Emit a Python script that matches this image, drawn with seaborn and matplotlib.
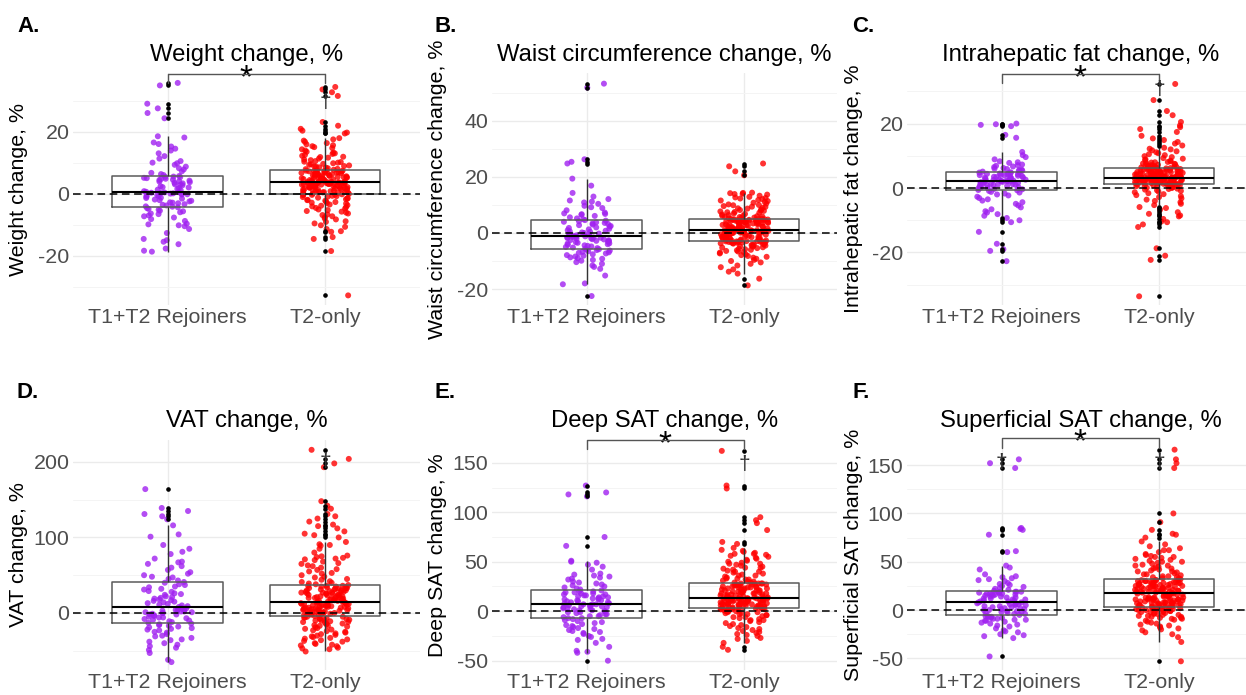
import numpy as np
import pandas as pd
import matplotlib.pyplot as plt
import seaborn as sns

groups = ["T1+T2 Rejoiners", "T2-only"]
colors = ["#A020F0", "#FF0000"]

# ---- values (percent change) ----
weight_rejoin = [
    -18.6, -18.3, -17.6, -16.2, -15.4, -14.9, -14.5, -12.6, -11.3, -10.4, -10.1, -9.8, -9.6, -8.7,
    -8.1, -7.6, -7.2, -6.9, -6.5, -6.3, -5.9, -5.6, -5.4, -5.1, -4.8, -4.6, -4.3, -4.1,
    -4.0, -3.7, -3.5, -3.3, -3.0, -2.8, -2.7, -2.4, -2.2, -2.0, -1.8, -1.5, -1.3, -1.2, -0.9,
    -0.7, -0.6, -0.4, -0.2, -0.1, 0.0, 0.1, 0.2, 0.3, 0.4, 0.5, 0.6,
    0.7, 0.9, 1.2, 1.4, 1.6, 1.9, 2.1, 2.2, 2.5, 2.8, 3.0, 3.1, 3.4, 3.6, 3.8, 4.0, 4.1, 4.3,
    4.5, 4.6, 4.8, 4.9, 5.1, 5.2, 5.4, 5.5, 5.6,
    5.8, 6.1, 6.4, 6.8, 7.3, 7.9, 8.3, 8.8, 9.4, 9.9, 10.1, 10.6, 11.4, 12.2, 13.1, 14.0, 14.6,
    15.3, 16.1, 16.6, 18.2, 18.6, 24.4, 26.1, 27.6, 29.1, 35.0, 35.8]
weight_t2 = [
    -32.7, -18.4, -14.5, -13.9, -12.2, -12.0, -11.3, -10.6, -10.1, -9.5, -9.0, -8.8, -8.2, -7.9,
    -7.5, -7.2, -6.8, -6.6, -6.3, -6.0, -5.7, -5.5, -5.2, -5.0, -4.7, -4.5, -4.3, -4.0, -3.8,
    -3.6, -3.4, -3.1, -2.9, -2.8, -2.6, -2.4, -2.2, -2.0, -1.9, -1.7, -1.5, -1.4, -1.2, -1.0,
    -0.9, -0.7, -0.6, -0.4, -0.3, -0.2, -0.1, -0.1, 0.0,
    0.1, 0.2, 0.3, 0.4, 0.5, 0.6, 0.7, 0.8, 0.8, 0.9, 1.0, 1.1, 1.2, 1.3, 1.3, 1.4, 1.5, 1.6,
    1.7, 1.8, 1.8, 1.9, 2.0, 2.1, 2.2, 2.2, 2.3, 2.4, 2.5, 2.5, 2.6, 2.7, 2.8, 2.8, 2.9, 3.0,
    3.0, 3.1, 3.2, 3.2, 3.3, 3.3, 3.4, 3.4, 3.5, 3.5, 3.6, 3.6, 3.6, 3.7, 3.7, 3.7,
    3.8, 3.8, 3.9, 4.0, 4.0, 4.1, 4.2, 4.3, 4.3, 4.4, 4.5, 4.6, 4.6, 4.7, 4.8, 4.9, 5.0, 5.0,
    5.1, 5.2, 5.3, 5.4, 5.4, 5.5, 5.6, 5.7, 5.8, 5.9, 5.9, 6.0, 6.1, 6.2, 6.3, 6.3, 6.4, 6.5,
    6.6, 6.7, 6.7, 6.8, 6.9, 7.0, 7.0, 7.1, 7.2, 7.2, 7.3, 7.4, 7.4, 7.5, 7.5, 7.6,
    7.7, 7.8, 8.0, 8.1, 8.3, 8.5, 8.6, 8.8, 9.0, 9.2, 9.4, 9.6, 9.9, 10.1, 10.3, 10.6, 10.9,
    11.1, 11.4, 11.7, 12.0, 12.3, 12.6, 12.9, 13.3, 13.6, 14.0, 14.4, 14.8, 15.1, 15.4, 15.7,
    16.0, 16.4, 16.8, 17.2, 17.6, 18.0, 9.7, 11.9, 13.1, 10.4, 8.9,
    19.5, 19.8, 20.4, 21.0, 22.0, 23.2, 31.6, 32.8, 33.7, 34.5]

waist_rejoin = [
    -22.5, -18.3, -18.0, -15.2, -12.8, -12.1, -11.6, -11.0, -10.4, -9.9, -9.6, -9.2, -9.0, -8.7,
    -8.4, -8.1, -7.9, -7.6, -7.3, -7.1, -6.9, -6.7, -6.5, -6.3, -6.1, -5.9, -5.8, -5.6,
    -5.4, -5.2, -5.0, -4.8, -4.6, -4.4, -4.2, -4.0, -3.8, -3.7, -3.5, -3.3, -3.1, -2.9, -2.8,
    -2.6, -2.5, -2.3, -2.2, -2.0, -1.9, -1.8, -1.7, -1.6, -1.5, -1.4, -1.3,
    -1.2, -1.0, -0.8, -0.6, -0.4, -0.2, 0.0, 0.2, 0.4, 0.6, 0.8, 1.0, 1.3, 1.5, 1.8, 2.0, 2.3,
    2.5, 2.8, 3.0, 3.2, 3.4, 3.6, 3.8, 4.0, 4.2, 4.4,
    4.6, 4.9, 5.2, 5.6, 6.1, 6.5, 6.8, 7.0, 7.3, 8.1, 8.9, 9.7, 10.4, 10.9, 11.6, 12.1, 13.0,
    14.3, 16.9, 19.4, 6.7, 9.2, 11.2, 24.8, 25.4, 26.3, 51.9, 53.3]
waist_t2 = [
    -18.7, -16.3, -14.5, -13.8, -13.0, -12.2, -11.6, -11.0, -10.5, -10.0, -9.6, -9.2, -8.8, -8.5,
    -8.2, -7.9, -7.6, -7.3, -7.0, -6.8, -6.6, -6.4, -6.2, -6.0, -5.8, -5.6, -5.4, -5.2, -5.1,
    -4.9, -4.8, -4.6, -4.5, -4.4, -4.2, -4.1, -4.0, -3.9, -3.8, -3.7, -3.6, -3.5, -3.4, -3.4,
    -3.3, -3.2, -3.2, -3.1, -3.0, -3.0, -2.9, -2.9, -2.9,
    -2.8, -2.7, -2.6, -2.5, -2.4, -2.3, -2.2, -2.1, -2.0, -1.9, -1.8, -1.7, -1.6, -1.5, -1.4,
    -1.3, -1.2, -1.1, -1.0, -0.9, -0.8, -0.7, -0.6, -0.5, -0.4, -0.3, -0.2, -0.1, 0.0, 0.1,
    0.1, 0.2, 0.2, 0.3, 0.3, 0.4, 0.4, 0.5, 0.5, 0.6, 0.6, 0.7, 0.7, 0.8, 0.8, 0.9, 0.9, 1.0,
    1.0, 1.0, 1.1, 1.1,
    1.2, 1.3, 1.4, 1.5, 1.6, 1.7, 1.8, 1.9, 2.0, 2.1, 2.2, 2.3, 2.4, 2.5, 2.6, 2.7, 2.8, 2.9,
    3.0, 3.1, 3.2, 3.3, 3.4, 3.5, 3.5, 3.6, 3.7, 3.7, 3.8, 3.9, 3.9, 4.0, 4.1, 4.1, 4.2, 4.2,
    4.3, 4.3, 4.4, 4.4, 4.5, 4.5, 4.6, 4.6, 4.7, 4.7, 4.8, 4.8, 4.9, 4.9, 5.0, 5.0,
    5.1, 5.2, 5.4, 5.5, 5.7, 5.8, 6.0, 6.2, 6.4, 6.6, 6.8, 7.0, 7.2, 7.4, 7.7, 7.9, 8.2, 8.4,
    8.7, 9.0, 9.3, 9.6, 9.9, 10.2, 10.5, 10.8, 11.1, 11.4, 11.8, 12.1, 12.5, 12.9, 13.3, 13.7,
    14.0, 14.2, 14.4, 6.1, 7.5, 8.8, 10.0, 11.6, 12.7, 13.9, 9.4, 5.9, 14.3, 8.0, 12.3,
    20.6, 22.0, 23.8, 24.8]

liver_rejoin = [
    -22.7, -19.5, -19.0, -17.3, -13.6, -10.6, -10.0, -9.3, -8.6, -8.1, -7.6, -7.2, -6.6, -6.0,
    -5.4, -4.9, -4.4, -3.9, -3.5, -3.1, -2.7, -2.3, -2.0, -1.7, -1.4, -1.2, -0.9, -0.7,
    -0.6, -0.4, -0.3, -0.1, 0.0, 0.2, 0.3, 0.4, 0.6, 0.7, 0.8, 0.9, 1.0, 1.1, 1.2, 1.3, 1.4,
    1.5, 1.6, 1.7, 1.8, 1.9, 1.9, 2.0, 2.1, 2.1, 2.2,
    2.3, 2.3, 2.4, 2.5, 2.6, 2.7, 2.8, 2.9, 3.0, 3.1, 3.2, 3.3, 3.4, 3.5, 3.6, 3.7, 3.8, 3.9,
    4.0, 4.1, 4.2, 4.3, 4.4, 4.5, 4.6, 4.7, 4.8,
    4.9, 5.1, 5.3, 5.6, 5.9, 6.2, 6.5, 6.9, 7.3, 7.8, 8.3, 8.9, 9.6, 10.2, 11.2, 5.4, 6.0, 7.1,
    4.9, 5.7, 6.7, 8.0, 15.6, 16.5, 19.2, 19.6, 19.8, 20.0]
liver_t2 = [
    -33.6, -22.3, -21.0, -18.7, -12.1, -11.3, -10.6, -10.4, -9.6, -8.8, -8.5, -8.0, -7.5, -6.7,
    -6.2, -5.9, -5.3, -4.9, -4.4, -4.0, -3.6, -3.2, -2.8, -2.5, -2.2, -1.9, -1.6, -1.3, -1.1,
    -0.9, -0.7, -0.5, -0.3, -0.2, 0.0, 0.1, 0.2, 0.3, 0.4, 0.5, 0.6, 0.7, 0.8, 0.8, 0.9, 1.0,
    1.0, 1.1, 1.1, 1.2, 1.2, 1.3, 1.3,
    1.4, 1.4, 1.5, 1.5, 1.6, 1.6, 1.7, 1.7, 1.8, 1.8, 1.9, 1.9, 2.0, 2.0, 2.1, 2.1, 2.2, 2.2,
    2.3, 2.3, 2.3, 2.4, 2.4, 2.5, 2.5, 2.5, 2.6, 2.6, 2.6, 2.7, 2.7, 2.7, 2.8, 2.8, 2.8, 2.9,
    2.9, 2.9, 3.0, 3.0, 3.0, 3.0, 3.1, 3.1, 3.1, 3.1, 3.2, 3.2, 3.2, 3.2, 3.2, 3.2,
    3.3, 3.3, 3.4, 3.4, 3.5, 3.5, 3.6, 3.6, 3.7, 3.7, 3.8, 3.8, 3.9, 3.9, 4.0, 4.0, 4.1, 4.1,
    4.2, 4.2, 4.3, 4.3, 4.4, 4.4, 4.5, 4.5, 4.6, 4.6, 4.7, 4.7, 4.8, 4.8, 4.9, 4.9, 5.0, 5.0,
    5.1, 5.1, 5.2, 5.2, 5.3, 5.4, 5.4, 5.5, 5.5, 5.6, 5.7, 5.7, 5.8, 5.9, 5.9, 6.0,
    6.1, 6.2, 6.3, 6.4, 6.5, 6.6, 6.7, 6.8, 6.9, 7.0, 7.1, 7.2, 7.4, 7.5, 7.6, 7.8, 7.9, 8.1,
    8.3, 8.5, 8.7, 8.9, 9.1, 9.3, 9.6, 9.9, 10.2, 10.5, 10.8, 11.1, 11.4, 11.7, 12.0, 12.2,
    12.5, 6.6, 7.3, 8.0,
    13.2, 13.8, 14.3, 14.9, 15.4, 16.2, 17.4, 18.3, 18.9, 19.4, 20.5, 22.6, 23.9, 27.3, 32.3]

vat_rejoin = [
    -65, -62, -53, -49, -46, -44, -42, -40, -38, -36, -35, -33, -31, -30, -28, -26, -25, -23,
    -22, -21, -20, -19, -18, -17, -16, -15, -14, -13,
    -12, -11, -10, -9, -8, -7, -6, -6, -5, -4, -3, -2, -2, -1, 0, 0, 1, 1, 2, 2, 3, 3, 4, 4, 5,
    6, 7,
    8, 9, 10, 11, 12, 13, 14, 15, 16, 17, 18, 19, 20, 21, 22, 24, 25, 26, 28, 29, 31, 32, 34,
    35, 37, 38, 40,
    41, 43, 45, 47, 48, 50, 52, 54, 57, 60, 62, 65, 67, 68, 72, 78, 81, 85, 90, 101, 104, 116,
    124, 128, 131, 135, 139, 164]
vat_t2 = [
    -51, -48, -47, -46, -44, -43, -42, -41, -40, -38, -37, -36, -35, -34, -33, -32, -31, -30,
    -29, -28, -27, -26, -25, -24, -23, -22, -21, -20, -19, -18, -17, -17, -16, -15, -14, -14,
    -13, -12, -12, -11, -10, -10, -9, -9, -8, -8, -7, -7, -6, -6, -5, -5, -4,
    -3, -3, -2, -2, -2, -1, -1, 0, 0, 0, 1, 1, 1, 2, 2, 2, 3, 3, 3, 4, 4, 4, 5, 5, 5, 6, 6, 6,
    7, 7, 7, 8, 8, 8, 9, 9, 9, 10, 10, 10, 11, 11, 11, 12, 12, 12, 13, 13, 13, 14, 14, 14,
    15, 15, 16, 16, 17, 17, 18, 18, 19, 19, 20, 20, 21, 21, 22, 22, 23, 23, 24, 24, 25, 25, 26,
    26, 27, 27, 28, 28, 29, 29, 30, 30, 31, 31, 32, 32, 33, 33, 34, 34, 35, 35, 36, 36, 36,
    16, 18, 21, 24, 27, 30, 33,
    37, 38, 39, 40, 41, 42, 44, 45, 47, 48, 50, 52, 53, 55, 57, 58, 60, 62, 63, 65, 66, 68, 70,
    71, 72, 73, 74, 75, 76, 80, 85, 89, 90, 91, 94,
    100, 103, 105, 108, 112, 115, 117, 121, 125, 128, 131, 138, 142, 148, 193, 198, 204, 216]

deep_rejoin = [
    -50, -42, -41, -40, -36, -32, -29, -28, -26, -25, -23, -22, -21, -20, -19, -18, -17, -16,
    -15, -14, -13, -12, -11, -10, -9, -8, -7, -7,
    -6, -5, -5, -4, -3, -3, -2, -1, -1, 0, 0, 1, 1, 2, 2, 3, 3, 4, 4, 5, 5, 5, 6, 6, 7, 7, 7,
    8, 8, 9, 9, 10, 10, 11, 11, 12, 12, 13, 13, 14, 14, 15, 15, 16, 16, 17, 17, 18, 18, 19, 19,
    20, 20, 21,
    22, 23, 24, 25, 26, 27, 28, 29, 30, 32, 33, 34, 35, 36, 37, 38, 42, 45, 47, 49, 50, 51,
    66, 75, 116, 118, 120, 127]
deep_t2 = [
    -39, -36, -32, -30, -28, -27, -25, -24, -23, -22, -21, -20, -19, -18, -17, -16, -15, -14,
    -13, -12, -11, -10, -9, -9, -8, -7, -6, -6, -5, -4, -4, -3, -3, -2, -2, -1, -1, 0, 0, 0, 1,
    1, 1, 1, 2, 2, 2, 2, 3, 3, 3, 3, 3,
    4, 4, 4, 4, 5, 5, 5, 5, 5, 6, 6, 6, 6, 6, 7, 7, 7, 7, 7, 8, 8, 8, 8, 8, 9, 9, 9, 9, 9, 10,
    10, 10, 10, 10, 11, 11, 11, 11, 11, 12, 12, 12, 12, 12, 13, 13, 13, 13, 13, 13, 13, 13,
    14, 14, 14, 15, 15, 15, 16, 16, 16, 17, 17, 17, 18, 18, 18, 19, 19, 19, 20, 20, 20, 21, 21,
    21, 22, 22, 22, 23, 23, 23, 24, 24, 24, 25, 25, 25, 26, 26, 26, 27, 27, 27, 28, 28, 28, 28,
    15, 18, 21, 24, 26, 28,
    29, 29, 30, 31, 32, 32, 33, 34, 35, 36, 37, 38, 39, 40, 41, 42, 43, 44, 45, 46, 47, 48, 49,
    50, 51, 52, 53, 54, 55, 56, 57, 58, 59, 60, 61, 62, 64, 30, 33, 36, 40, 44, 48, 58,
    68, 70, 82, 89, 92, 95, 124, 127, 162]

sup_rejoin = [
    -48, -29, -27, -26, -25, -23, -22, -21, -19, -17, -16, -15, -14, -13, -12, -11, -11, -10,
    -10, -9, -9, -8, -8, -7, -7, -6, -6, -5,
    -4, -4, -3, -3, -2, -2, -1, -1, 0, 0, 1, 1, 2, 2, 3, 3, 4, 4, 5, 5, 6, 6, 6, 7, 7, 8, 8,
    9, 9, 10, 10, 11, 11, 12, 12, 13, 13, 14, 14, 15, 15, 16, 16, 16, 17, 17, 17, 18, 18, 18,
    19, 19, 19, 19,
    20, 21, 22, 23, 24, 25, 26, 27, 28, 30, 31, 32, 33, 34, 35, 37, 42, 44, 46,
    60, 61, 78, 83, 84, 85, 147, 152, 156]
sup_t2 = [
    -53, -33, -28, -25, -23, -21, -20, -19, -18, -17, -16, -15, -14, -13, -12, -11, -10, -9,
    -9, -8, -8, -7, -7, -6, -6, -5, -5, -4, -4, -3, -3, -2, -2, -2, -1, -1, -1, 0, 0, 0, 0, 1,
    1, 1, 1, 2, 2, 2, 2, 2, 3, 3, 3,
    4, 4, 4, 5, 5, 5, 5, 6, 6, 6, 6, 7, 7, 7, 7, 8, 8, 8, 8, 9, 9, 9, 9, 10, 10, 10, 10, 11,
    11, 11, 11, 12, 12, 12, 12, 13, 13, 13, 13, 14, 14, 14, 15, 15, 15, 16, 16, 16, 17, 17,
    17, 17,
    18, 18, 18, 19, 19, 19, 20, 20, 20, 21, 21, 21, 22, 22, 22, 23, 23, 23, 24, 24, 24, 25, 25,
    25, 26, 26, 26, 27, 27, 27, 28, 28, 28, 29, 29, 29, 30, 30, 30, 31, 31, 31,
    19, 21, 23, 25, 27, 29, 31, 20, 24, 28,
    32, 33, 33, 34, 35, 35, 36, 37, 38, 39, 40, 41, 42, 43, 44, 45, 46, 47, 48, 49, 50, 51, 52,
    53, 54, 55, 56, 57, 58, 60, 62, 64, 66, 68, 71, 34, 37, 40, 43, 46, 50, 55, 62,
    75, 78, 79, 83, 91, 100, 147, 152, 156, 166]

titles = ["Weight change, %", "Waist circumference change, %", "Intrahepatic fat change, %",
          "VAT change, %", "Deep SAT change, %", "Superficial SAT change, %"]
letters = ["A.", "B.", "C.", "D.", "E.", "F."]
series = [(weight_rejoin, weight_t2), (waist_rejoin, waist_t2), (liver_rejoin, liver_t2),
          (vat_rejoin, vat_t2), (deep_rejoin, deep_t2), (sup_rejoin, sup_t2)]
major_ticks = [[-20, 0, 20], [-20, 0, 20, 40], [-20, 0, 20],
               [0, 100, 200], [-50, 0, 50, 100, 150], [-50, 0, 50, 100, 150]]
minor_ticks = [[-30, -10, 10, 30], [-10, 10, 30, 50], [-30, -10, 10, 30],
               [-50, 50, 150], [-25, 25, 75, 125], [-25, 25, 75, 125]]
# significance bracket (bar height, leg end), None when absent
brackets = [(38.7, 35.8), None, (35.3, 32.6), None, (173.2, 164.0), (178.0, 167.5)]
# dagger marks: (group index, y)
daggers = [[(1, 29.6)], [], [(1, 30.7)], [(1, 200)], [(1, 148)], [(0, 153), (1, 153)]]

sns.set_style("white")
plt.rcParams["font.family"] = ["Liberation Sans", "DejaVu Sans"]
plt.rcParams["axes.unicode_minus"] = False
np.random.seed(11)

W, H = 1246, 695
fig = plt.figure(figsize=(W / 100, H / 100), dpi=100)

# axes boxes in pixels: left, top, right, bottom
rects = [(73, 73, 420, 305), (492, 73, 837, 305), (907, 73, 1246, 305),
         (73, 440, 420, 670), (492, 440, 837, 670), (907, 440, 1246, 670)]
ylims = [(-35.8, 39.0), (-25.7, 57.1), (-36.3, 35.7),
         (-75.5, 229), (-59.4, 173), (-62, 176)]
letter_pos = [(17, 32), (434, 32), (852, 32), (17, 398), (434, 398), (852, 398)]

for i in range(6):
    l, t, r, b = rects[i]
    ax = fig.add_axes([l / W, 1 - b / H, (r - l) / W, (b - t) / H])
    rejoin, t2 = series[i]
    df = pd.DataFrame({"group": [groups[0]] * len(rejoin) + [groups[1]] * len(t2),
                       "value": list(rejoin) + list(t2)})

    sns.boxplot(data=df, x="group", y="value", order=groups, ax=ax, width=0.7,
                fill=False, color="#5a5a5a", linewidth=1.1, showcaps=False, whis=1.5,
                medianprops={"color": "black", "linewidth": 1.5},
                whiskerprops={"color": "#333333", "linewidth": 1.0},
                flierprops={"marker": "o", "markersize": 2.3, "markerfacecolor": "black",
                            "markeredgecolor": "black"})
    sns.stripplot(data=df, x="group", y="value", hue="group", order=groups,
                  hue_order=groups, palette=colors, jitter=0.155, size=4.3, alpha=0.8,
                  linewidth=0, legend=False, ax=ax, zorder=1)

    ax.axhline(0, color="black", lw=1.1, ls=(0, (5, 3)), zorder=5)

    ax.set_xlim(-0.6, -0.6 + (r - l) / 157.5)
    ax.set_ylim(*ylims[i])
    ax.set_yticks(major_ticks[i])
    ax.set_yticks(minor_ticks[i], minor=True)
    ax.set_axisbelow(True)
    ax.grid(which="major", axis="both", color="#EBEBEB", lw=1.0)
    ax.grid(which="minor", axis="y", color="#F4F4F4", lw=0.7)
    for s in ax.spines.values():
        s.set_visible(False)
    ax.tick_params(which="both", length=0, labelsize=15.4, labelcolor="#4D4D4D", pad=2.5)

    ax.set_xlabel("")
    ax.set_ylabel(titles[i], fontsize=15.4, color="black")
    ax.yaxis.set_label_coords(-0.129, 0.5)
    center_px = {73: 246.5, 492: 664.5, 907: 1081}[l]
    ax.set_title(titles[i], fontsize=17.2, color="black", x=(center_px - l) / (r - l),
                 pad=8.8 if i < 3 else 9.4)

    if brackets[i] is not None:
        bar, leg = brackets[i]
        ax.plot([0, 0, 1, 1], [leg, bar, bar, leg], color="#555555", lw=1.0,
                clip_on=False, zorder=6)
        ax.annotate("*", xy=(0.5, bar), xytext=(0, -9.5), textcoords="offset points",
                    ha="center", va="baseline", fontsize=24, color="black",
                    annotation_clip=False)
    for gx, gy in daggers[i]:
        ax.text(gx, gy, "\u2020", ha="center", va="center", fontsize=15,
                color="#333333", zorder=7)

    lx, ly = letter_pos[i]
    fig.text(lx / W, 1 - ly / H, letters[i], fontsize=16, fontweight="bold",
             color="black", ha="left", va="baseline")

fig.savefig("out.png", dpi=100)
